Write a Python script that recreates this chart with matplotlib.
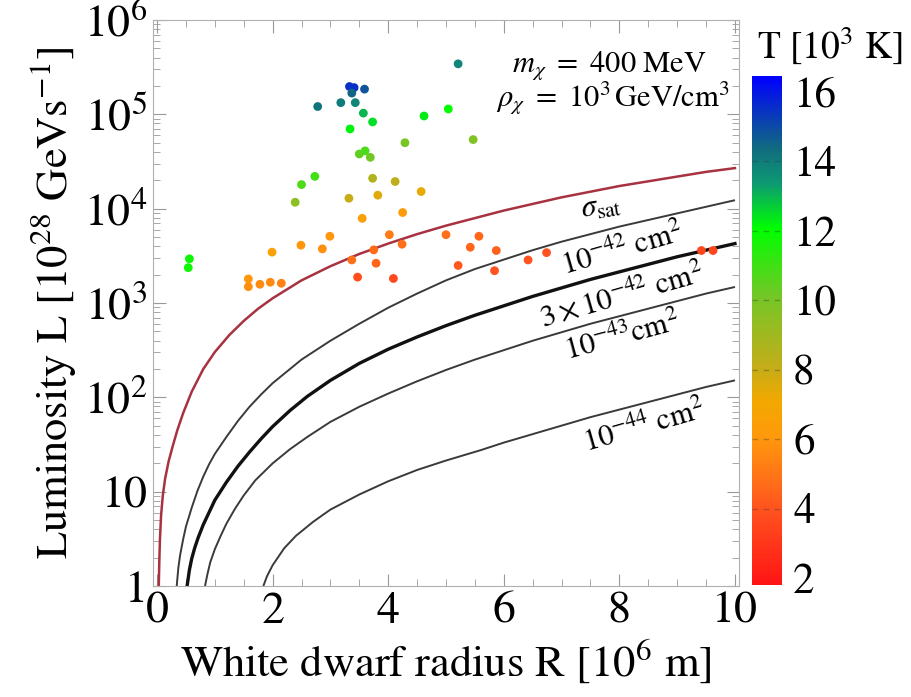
import numpy as np
import matplotlib
matplotlib.use('Agg')
import matplotlib.pyplot as plt
from matplotlib.colors import LinearSegmentedColormap, Normalize
from matplotlib.cm import ScalarMappable

plt.rcParams['font.family'] = ['STIXGeneral', 'DejaVu Serif']
plt.rcParams['mathtext.fontset'] = 'stix'

# white dwarfs: radius [1e6 m], luminosity [1e28 GeV/s], temperature [1e3 K]
wd_R = [3.33, 3.41, 3.59, 3.37, 2.78, 3.18, 3.43, 3.57, 3.73, 4.62, 5.04, 5.21,
        3.34, 4.29, 5.47, 3.50, 3.60, 3.69, 2.73, 2.50, 3.73, 4.12, 2.39, 3.32,
        3.82, 4.57, 3.55, 4.25, 2.99, 2.49, 2.86, 4.02, 4.24, 3.75, 5.00, 1.99,
        3.37, 3.79, 3.47, 4.09, 0.56, 0.54, 1.58, 1.58, 1.78, 1.96, 2.15, 5.57,
        5.42, 5.87, 5.21, 5.84, 6.42, 6.74, 9.42, 9.62]
wd_L = [1.97e5, 1.92e5, 1.85e5, 1.68e5, 1.21e5, 1.33e5, 1.33e5, 1.03e5, 8.3e4, 9.6e4, 1.14e5, 3.43e5,
        7.0e4, 5.0e4, 5.4e4, 3.8e4, 4.1e4, 3.5e4, 2.2e4, 1.8e4, 2.1e4, 1.94e4, 1.17e4, 1.29e4,
        1.39e4, 1.52e4, 7.9e3, 9.1e3, 5.1e3, 4.1e3, 3.75e3, 5.3e3, 4.2e3, 3.66e3, 5.3e3, 3.46e3,
        2.86e3, 2.64e3, 1.88e3, 1.82e3, 2.94e3, 2.37e3, 1.80e3, 1.49e3, 1.58e3, 1.66e3, 1.62e3, 5.1e3,
        3.9e3, 3.6e3, 2.5e3, 2.2e3, 2.86e3, 3.42e3, 3.6e3, 3.6e3]
wd_T = [15.5, 15.5, 14.8, 14.5, 14.2, 14.0, 13.8, 13.0, 12.5, 12.3, 12.0, 13.8,
        12.2, 10.0, 9.8, 10.5, 10.8, 10.2, 11.0, 10.8, 8.6, 8.2, 9.5, 8.0,
        7.5, 7.3, 6.5, 6.3, 6.0, 6.0, 5.8, 5.2, 4.8, 4.7, 4.8, 6.6,
        4.8, 4.5, 3.8, 3.6, 11.8, 11.8, 6.0, 5.8, 5.6, 5.6, 5.4, 4.6,
        4.6, 4.4, 4.2, 4.0, 4.0, 4.0, 3.5, 3.5]

R_sat = [0.03, 0.04, 0.05, 0.07, 0.1, 0.14, 0.2, 0.27, 0.35, 0.45, 0.6, 0.8, 1.0, 1.25,
         1.5, 1.75, 2.0, 2.5, 3.0, 3.5, 4.0, 4.5, 5.0, 5.5, 6.0, 6.5, 7.0, 7.5, 8.0,
         8.5, 9.0, 9.5, 10.0]
logL_sat = [0, 0.28, 0.49, 0.75, 0.96, 1.14, 1.32, 1.48, 1.65, 1.83, 2.06, 2.30, 2.48, 2.66,
            2.81, 2.94, 3.05, 3.24, 3.39, 3.52, 3.63, 3.73, 3.82, 3.90, 3.98, 4.05, 4.12, 4.18, 4.24,
            4.29, 4.34, 4.39, 4.43]
R_42 = [0.34, 0.37, 0.4, 0.45, 0.5, 0.6, 0.7, 0.8, 0.9, 1.0, 1.2, 1.4, 1.6, 1.8, 2.0, 2.5,
        3.0, 3.5, 4.0, 4.5, 5.0, 5.5, 6.0, 6.5, 7.0, 7.5, 8.0, 8.5, 9.0, 9.5, 10.0]
logL_42 = [0, 0.2, 0.33, 0.49, 0.63, 0.83, 1.01, 1.16, 1.29, 1.40, 1.58, 1.75, 1.90, 2.03, 2.15, 2.40,
           2.60, 2.78, 2.95, 3.10, 3.24, 3.36, 3.46, 3.56, 3.65, 3.73, 3.81, 3.88, 3.95, 4.02, 4.09]
R_3x42 = [0.52, 0.56, 0.6, 0.65, 0.71, 0.8, 0.9, 1.0, 1.2, 1.4, 1.6, 1.8, 2.0, 2.3, 2.6,
          3.0, 3.5, 4.0, 4.5, 5.0, 5.5, 6.0, 6.5, 7.0, 7.5, 8.0, 8.5, 9.0, 9.5, 10.0]
logL_3x42 = [0, 0.17, 0.29, 0.40, 0.51, 0.65, 0.78, 0.91, 1.10, 1.27, 1.42, 1.56, 1.69, 1.86, 2.01,
             2.18, 2.36, 2.51, 2.64, 2.76, 2.87, 2.97, 3.07, 3.16, 3.25, 3.33, 3.41, 3.49, 3.56, 3.63]
R_43 = [0.83, 0.87, 0.92, 1.0, 1.1, 1.2, 1.35, 1.5, 1.7, 2.0, 2.3, 2.6, 3.0, 3.5, 4.0, 4.5,
        5.0, 5.5, 6.0, 6.5, 7.0, 7.5, 8.0, 8.5, 9.0, 9.5, 10.0]
logL_43 = [0, 0.12, 0.25, 0.39, 0.53, 0.66, 0.82, 0.96, 1.12, 1.30, 1.45, 1.58, 1.74, 1.90, 2.04, 2.17,
           2.29, 2.40, 2.50, 2.60, 2.69, 2.78, 2.86, 2.94, 3.02, 3.10, 3.17]
R_44 = [1.84, 1.9, 2.0, 2.2, 2.4, 2.7, 3.0, 3.5, 4.0, 4.5, 5.0, 5.6, 6.0, 6.5, 7.0, 7.5, 8.0,
        8.5, 9.0, 9.5, 10.0]
logL_44 = [0, 0.1, 0.22, 0.40, 0.53, 0.68, 0.81, 0.97, 1.11, 1.23, 1.33, 1.44, 1.52, 1.61, 1.70,
           1.79, 1.87, 1.95, 2.03, 2.11, 2.18]

x_ticks = [0, 2, 4, 6, 8, 10]
y_ticks = [1, 10, 1e2, 1e3, 1e4, 1e5, 1e6]
y_ticklabels = ['1', '10', '$10^{2}$', '$10^{3}$', '$10^{4}$', '$10^{5}$', '$10^{6}$']
cb_ticks = [2, 4, 6, 8, 10, 12, 14, 16]

cmap = LinearSegmentedColormap.from_list('wd', [
    (0.00, (1.00, 0.08, 0.08)),
    (0.15, (1.00, 0.33, 0.12)),
    (0.29, (1.00, 0.60, 0.05)),
    (0.36, (0.95, 0.66, 0.00)),
    (0.43, (0.76, 0.68, 0.10)),
    (0.57, (0.45, 0.78, 0.15)),
    (0.70, (0.00, 1.00, 0.00)),
    (0.79, (0.05, 0.60, 0.45)),
    (0.86, (0.07, 0.42, 0.50)),
    (1.00, (0.00, 0.00, 1.00)),
])
norm = Normalize(vmin=1.8, vmax=16.46)

W, H = 912, 697
fig = plt.figure(figsize=(W / 100, H / 100), dpi=100)
ax = fig.add_axes([153 / W, 1 - 586 / H, 586 / W, 566 / H])

thin = dict(color='#3a3a3a', lw=1.4, solid_capstyle='butt')
ax.plot(R_44, 10 ** np.array(logL_44), **thin)
ax.plot(R_43, 10 ** np.array(logL_43), **thin)
ax.plot(R_3x42, 10 ** np.array(logL_3x42), color='#111111', lw=2.4)
ax.plot(R_42, 10 ** np.array(logL_42), **thin)
ax.plot(R_sat, 10 ** np.array(logL_sat), color='#a83240', lw=1.8)

ax.scatter(wd_R, wd_L, c=wd_T, cmap=cmap, norm=norm, s=40, edgecolors='none', zorder=3)

ax.set_yscale('log')
ax.set_xlim(-0.07, 10.07)
ax.set_ylim(1, 1e6)
ax.set_xticks(x_ticks)
ax.set_xticks(np.arange(0, 10.01, 0.5), minor=True)
ax.set_yticks(y_ticks)
ax.set_yticklabels(y_ticklabels)
for s in ax.spines.values():
    s.set_color('#b0b0b0')
ax.tick_params(which='both', direction='in', top=True, right=True, colors='#999999',
               labelcolor='black', labelsize=33, pad=4)
ax.tick_params(which='major', length=9)
ax.tick_params(which='minor', length=5)

ax.set_xlabel(r'White dwarf radius R [$10^6$ m]', fontsize=32, labelpad=4)
ax.set_ylabel(r'Luminosity L [$10^{28}$ GeVs$^{-1}$]', fontsize=32, labelpad=4)

lab = dict(fontsize=22, ha='center', va='center', rotation_mode='anchor')
ax.text(7.69, 1.02e4, r'$\sigma_{\rm sat}$', rotation=9, **lab)
ax.text(8.06, 3660, r'$10^{-42}\ \rm cm^2$', rotation=16, **lab)
ax.text(8.04, 1160, r'$3\times10^{-42}\ \rm cm^2$', rotation=16, **lab)
ax.text(8.06, 437, r'$10^{-43}\rm cm^2$', rotation=15, **lab)
ax.text(8.44, 48.5, r'$10^{-44}\ \rm cm^2$', rotation=16, **lab)

ax.text(0.945, 0.92, r'$m_\chi\ =\ 400\ \mathrm{MeV}$', transform=ax.transAxes,
        ha='right', va='center', fontsize=22)
ax.text(0.985, 0.862, r'$\rho_\chi\ =\ 10^3\,\mathrm{GeV/cm^3}$', transform=ax.transAxes,
        ha='right', va='center', fontsize=22)

cax = fig.add_axes([752 / W, 1 - 585 / H, 30 / W, 509 / H])
cb = fig.colorbar(ScalarMappable(norm=norm, cmap=cmap), cax=cax, ticks=cb_ticks)
cb.outline.set_visible(False)
cax.tick_params(length=0, labelsize=31, pad=8)
for t in cb_ticks[1:-1]:
    cax.axhline(t, color='#333333', lw=1, alpha=0.35, ls=(0, (4, 4)))
fig.text(830 / W, 1 - 45 / H, r'T [$10^3$ K]', ha='center', va='center', fontsize=27)

fig.savefig('out.png', dpi=100)
